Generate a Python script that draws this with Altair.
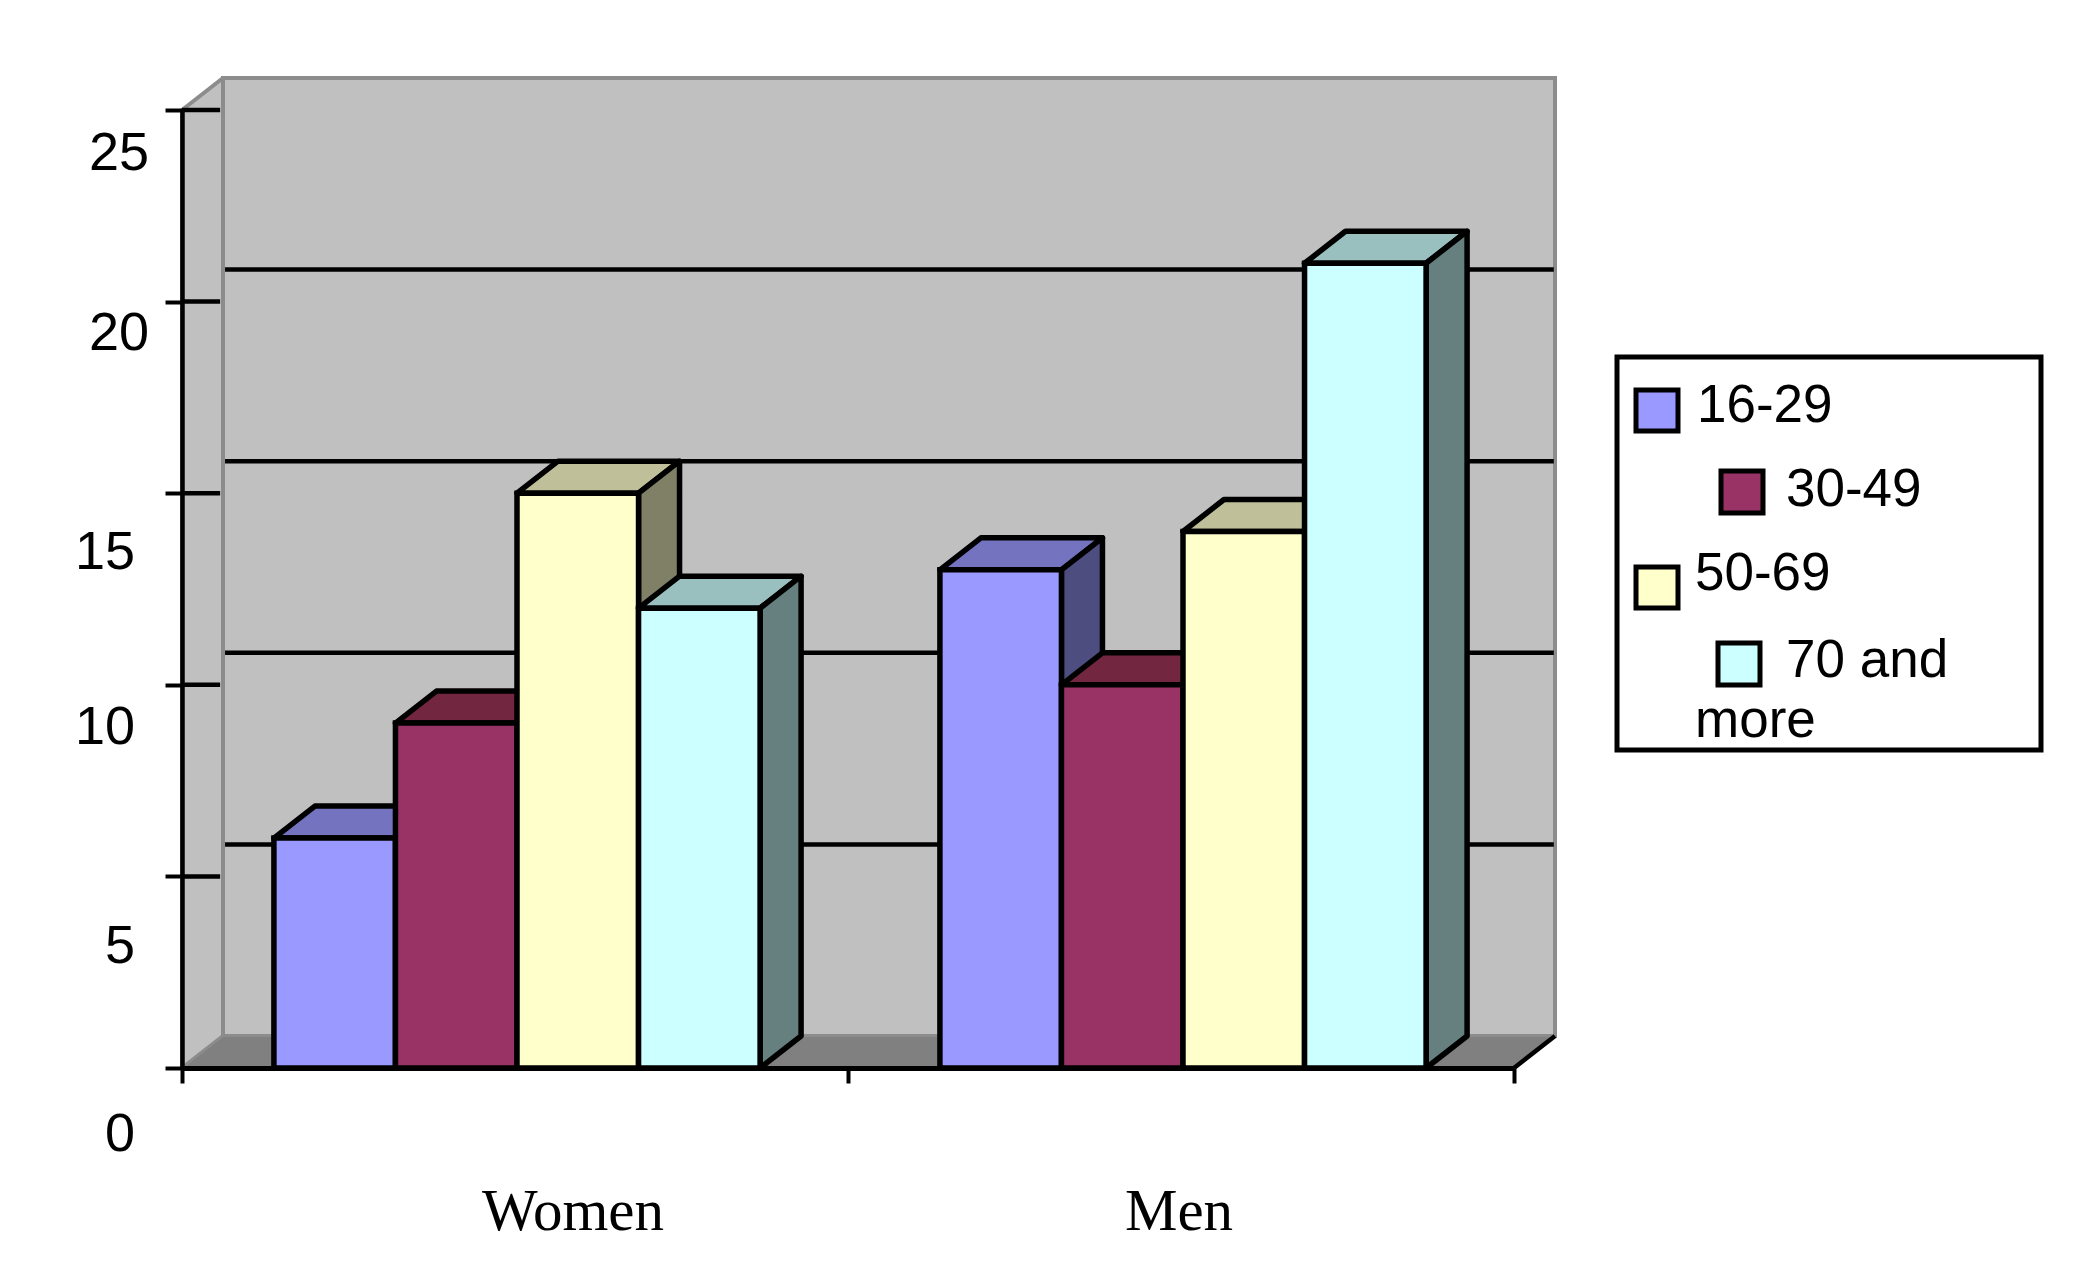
import altair as alt
import pandas as pd

groups = ["Women", "Men"]
series = ["16-29", "30-49", "50-69", "70 and more"]
women = [6, 9, 15, 12]
men = [13, 10, 14, 21]
front_colors = ["#9999FF", "#993366", "#FFFFCC", "#CCFFFF"]
top_colors = ["#7373BF", "#732640", "#BFBF99", "#99BFBF"]
side_colors = ["#4D4D80", "#4D1A33", "#808066", "#668080"]
y_ticks = [0, 5, 10, 15, 20, 25]
grid_values = [5, 10, 15, 20]

# layout (pixels of the plot area / scale units)
W, H = 1332, 958
X_MAX, Y_MAX = 2, 25
DX = 41 / (W / X_MAX)
DY = 32 / (H / Y_MAX)
BAR_W = 0.1825
GAP = 0.138
INK, WALL = "#000000", "#8C8C8C"
BAR_LW = 5.5
GRID_LW = 4.5

x_s = alt.Scale(domain=[0, X_MAX], nice=False, zero=False)
y_s = alt.Scale(domain=[0, Y_MAX], nice=False, zero=False)
x_axis = alt.Axis(values=[0, 1, 2], labels=False, grid=False, title=None, tickSize=15, tickWidth=4,
                  tickColor=INK, domainColor=INK, domainWidth=5, zindex=1)
y_axis = alt.Axis(values=y_ticks, labels=False, grid=False, title=None, tickSize=17, tickWidth=4,
                  tickColor=INK, domainColor=INK, domainWidth=4.5, zindex=1)
one = pd.DataFrame({"a": [0]})


def X(f="x"):
    return alt.X(f"{f}:Q", scale=x_s, axis=x_axis)


def Y(f="y"):
    return alt.Y(f"{f}:Q", scale=y_s, axis=y_axis)


def side_band(x0, y0, x1, y1, height, color, stroke, sw):
    d = pd.DataFrame({"x": [x0, x1], "y": [y0, y1], "y2": [y0 + height, y1 + height]})
    return alt.Chart(d).mark_area(color=color, stroke=stroke, strokeWidth=sw, strokeJoin="round", opacity=1).encode(
        x=X(), y=Y(), y2=alt.Y2("y2:Q"))


def flat_band(x0, x1, y0, color, stroke, sw):
    d = pd.DataFrame({"y": [y0, y0 + DY], "x": [x0, x0 + DX], "x2": [x1, x1 + DX]})
    return alt.Chart(d).mark_area(orient="horizontal", color=color, stroke=stroke, strokeWidth=sw,
                                  strokeJoin="round", opacity=1).encode(
        y=Y(), x=X(), x2=alt.X2("x2:Q"))


layers = []

# back wall, left wall, floor
wall_back = pd.DataFrame({"x": [DX], "x2": [X_MAX + DX], "y": [DY], "y2": [Y_MAX + DY]})
layers.append(alt.Chart(wall_back).mark_rect(fill="#C0C0C0", stroke=WALL, strokeWidth=4).encode(
    x=X(), x2="x2:Q", y=Y(), y2="y2:Q"))
layers.append(side_band(0, 0, DX, DY, Y_MAX, "#C0C0C0", WALL, 4))
layers.append(flat_band(0, X_MAX, 0, "#808080", WALL, 2))

# gridlines on the back wall
grid = pd.DataFrame({"y": [v + DY for v in grid_values], "x": DX * 1.05, "x2": X_MAX + DX * 0.97})
layers.append(alt.Chart(grid).mark_rule(color=INK, strokeWidth=GRID_LW).encode(x=X(), x2="x2:Q", y=Y()))

# short tick extensions across the left wall
wall_ticks = pd.DataFrame({"y": [v for v in y_ticks[1:]], "x": 0, "x2": DX * 0.93})
layers.append(alt.Chart(wall_ticks).mark_rule(color=INK, strokeWidth=GRID_LW).encode(x=X(), x2="x2:Q", y=Y()))

# floor right edge
edge = pd.DataFrame({"x": [X_MAX], "x2": [X_MAX + DX], "y": [0], "y2": [DY]})
layers.append(alt.Chart(edge).mark_rule(color=INK, strokeWidth=GRID_LW).encode(x=X(), x2="x2:Q", y=Y(), y2="y2:Q"))

# bars, painted back to front
for g, values in enumerate([women, men]):
    for i, v in enumerate(values):
        x0 = g + GAP + i * BAR_W
        x1 = x0 + BAR_W
        layers.append(flat_band(x0, x1, v, top_colors[i], INK, BAR_LW))
        layers.append(side_band(x1, 0, x1 + DX, DY, v, side_colors[i], INK, BAR_LW))
        bar = pd.DataFrame({"group": [groups[g]], "series": [series[i]],
                            "x": [x0], "x2": [x1], "y": [0], "y2": [v]})
        layers.append(alt.Chart(bar).mark_rect(fill=front_colors[i], stroke=INK, strokeWidth=BAR_LW).encode(
            x=X(), x2="x2:Q", y=Y(), y2="y2:Q"))

# value labels: tick -> (horizontal shift, baseline offset below its tick)
SANS = "Liberation Sans"
y_label_shift = {0: (-47, 83), 5: (-47, 87), 10: (-47, 59), 15: (-47, 76), 20: (-33, 48), 25: (-33, 60)}
for t in y_ticks:
    sx, sy = y_label_shift[t]
    layers.append(alt.Chart(one).mark_text(font=SANS, fontSize=54, align="right", baseline="alphabetic",
                                           color="#000000", dx=sx, dy=sy).encode(
        x=alt.value(0), y=alt.Y("v:Q", scale=y_s, axis=y_axis), text="v:Q"
    ).transform_calculate(v=str(t)))

# category labels
cat_x = {"Women": 391, "Men": 997}
for name in groups:
    layers.append(alt.Chart(one).mark_text(font="Liberation Serif", fontSize=59, align="center",
                                           baseline="alphabetic", color="#000000").encode(
        x=alt.value(cat_x[name]), y=alt.value(1120), text=alt.value(name)))

# legend, laid out as in the reference (pixels of the view)
layers.append(alt.Chart(one).mark_rect(fill="white", stroke=INK, strokeWidth=5).encode(
    x=alt.value(1435), x2=alt.value(1859), y=alt.value(247), y2=alt.value(640)))
swatches = [(1454, 1496, 280, 321), (1539, 1581, 361, 403), (1454, 1496, 457, 498), (1536, 1578, 533, 575)]
for (a, b, c, d), col in zip(swatches, front_colors):
    layers.append(alt.Chart(one).mark_rect(fill=col, stroke=INK, strokeWidth=5).encode(
        x=alt.value(a), x2=alt.value(b), y=alt.value(c), y2=alt.value(d)))
legend_lines = [("16-29", 1515, 312), ("30-49", 1604, 396), ("50-69", 1513, 480),
                ("70 and", 1604, 567), ("more", 1513, 627)]
for txt, px, py in legend_lines:
    layers.append(alt.Chart(one).mark_text(font=SANS, fontSize=53, align="left", baseline="alphabetic",
                                           color="#000000").encode(
        x=alt.value(px), y=alt.value(py), text=alt.value(txt)))

chart = alt.layer(*layers).properties(
    width=W, height=H,
    padding={"left": 174, "top": 102, "right": 565, "bottom": 190},
    autosize="none",
    background="white",
).configure_view(stroke=None)

chart.save("out.html", embed_options={"renderer": "svg", "actions": False})
